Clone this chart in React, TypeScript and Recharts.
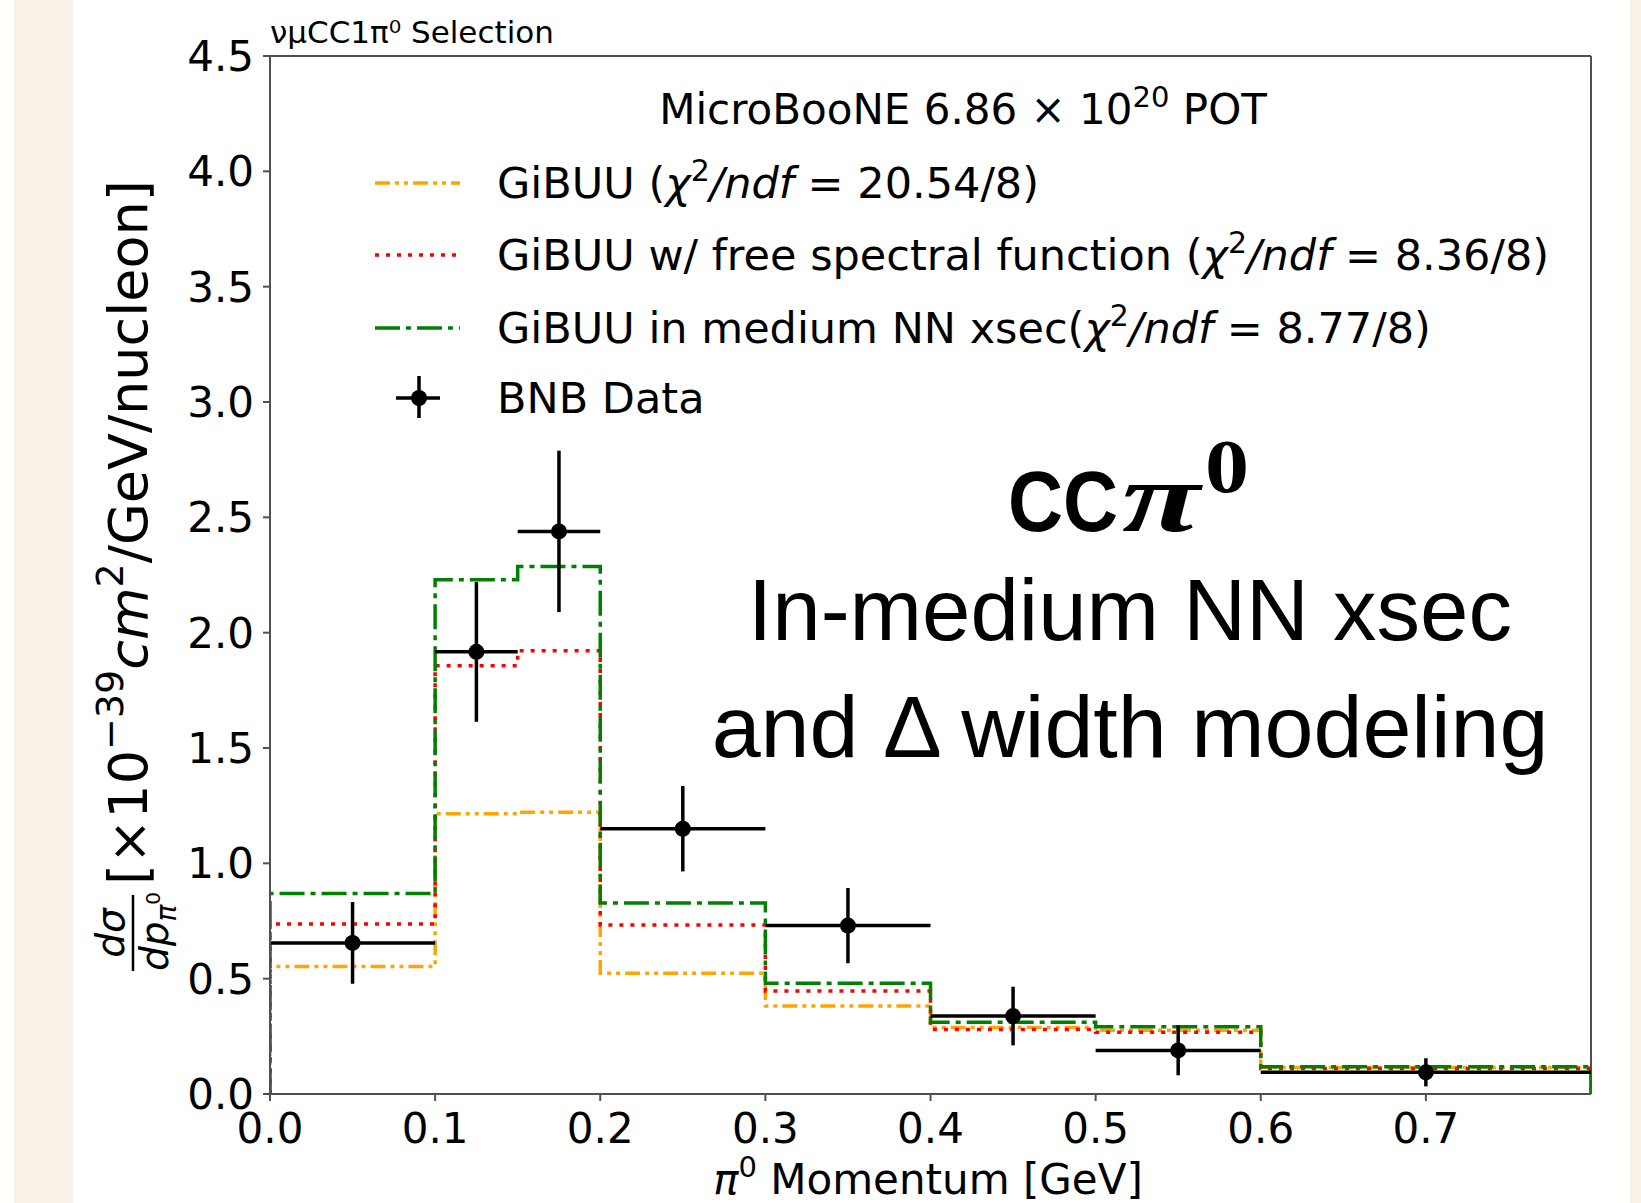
import React from 'react';
import { ComposedChart, Line, Scatter, XAxis, YAxis, ErrorBar, ReferenceLine } from 'recharts';

// Histogram bin edges (GeV) shared by the GiBUU predictions
const binEdges = [0, 0.1, 0.15, 0.2, 0.3, 0.4, 0.5, 0.6, 0.8];

// GiBUU predictions per bin [1e-39 cm^2/GeV/nucleon]
const gibuu = [0.553, 1.215, 1.222, 0.524, 0.382, 0.288, 0.276, 0.115];
const gibuuFreeSpectral = [0.737, 1.857, 1.922, 0.733, 0.447, 0.28, 0.268, 0.111];
const gibuuInMediumNN = [0.869, 2.229, 2.287, 0.828, 0.48, 0.311, 0.292, 0.118];

// BNB data points
const dataCenters = [0.05, 0.125, 0.175, 0.25, 0.35, 0.45, 0.55, 0.7];
const dataValues = [0.655, 1.917, 2.439, 1.15, 0.73, 0.338, 0.189, 0.094];
const dataErrors = [0.177, 0.303, 0.35, 0.185, 0.163, 0.127, 0.108, 0.061];
const dataHalfWidths = [0.05, 0.025, 0.025, 0.05, 0.05, 0.05, 0.05, 0.1];

const xTicks = [0, 0.1, 0.2, 0.3, 0.4, 0.5, 0.6, 0.7];
const yTicks = [0, 0.5, 1, 1.5, 2, 2.5, 3, 3.5, 4, 4.5];

const W = 1641;
const H = 1203;
const FONT = '"DejaVu Sans", sans-serif';
const SANS = '"Liberation Sans", Arial, sans-serif';
const SERIF = '"Liberation Serif", serif';
const SPINE = '#505050';

const ORANGE = '#ffa500';
const RED = '#ff0000';
const GREEN = '#008000';
const DASH_ORANGE = '15 5 4 5 4 5';
const DASH_RED = '4 7';
const DASH_GREEN = '25 6 5 6';

// matplotlib-style "step" outline: rises from zero at the first edge, falls back at the last
function stepPoints(values: number[]) {
  const last = binEdges[binEdges.length - 1];
  const pts = [{ x: binEdges[0], y: 0 }];
  values.forEach((v, i) => pts.push({ x: binEdges[i], y: v }));
  pts.push({ x: last, y: values[values.length - 1] });
  pts.push({ x: last, y: 0 });
  return pts;
}

const bnbData = dataCenters.map((x, i) => ({
  x,
  y: dataValues[i],
  yErr: dataErrors[i],
  xErr: dataHalfWidths[i],
}));

const tickStyle = { fill: '#000', fontSize: 42, fontFamily: FONT };

const Dot = (props: any) => <circle cx={props.cx} cy={props.cy} r={8} fill="#000" />;

function Overlay() {
  const legendRows = [
    { y: 183, color: ORANGE, dash: DASH_ORANGE, label: 'GiBUU (', value: '20.54/8)' },
    { y: 255, color: RED, dash: DASH_RED, label: 'GiBUU w/ free spectral function (', value: '8.36/8)' },
    { y: 328, color: GREEN, dash: DASH_GREEN, label: 'GiBUU in medium NN xsec(', value: '8.77/8)' },
  ];
  return (
    <svg width={W} height={H} style={{ position: 'absolute', left: 0, top: 0, pointerEvents: 'none' }}>
      {/* selection tag above the frame */}
      <text x={270} y={43} fontFamily={FONT} fontSize={31} fill="#000">
        νμCC1π⁰ Selection
      </text>

      {/* legend */}
      <text x={963} y={124} fontFamily={FONT} fontSize={42} fill="#000" textAnchor="middle">
        MicroBooNE 6.86 × 10
        <tspan fontSize={29} dy={-17}>20</tspan>
        <tspan dy={17}> POT</tspan>
      </text>
      {legendRows.map((r) => (
        <g key={r.label}>
          <line x1={375} x2={460} y1={r.y} y2={r.y} stroke={r.color} strokeWidth={3.5} strokeDasharray={r.dash} />
          <text x={497} y={r.y + 15} fontFamily={FONT} fontSize={43} fill="#000">
            {r.label}
            <tspan fontStyle="italic">χ</tspan>
            <tspan fontSize={30} dy={-17}>2</tspan>
            <tspan dy={17} fontStyle="italic">/ndf</tspan>
            <tspan> = {r.value}</tspan>
          </text>
        </g>
      ))}
      <g>
        <line x1={396} x2={440} y1={398} y2={398} stroke="#000" strokeWidth={3.5} />
        <line x1={419} x2={419} y1={376} y2={418} stroke="#000" strokeWidth={3.5} />
        <circle cx={419} cy={398} r={8} fill="#000" />
        <text x={497} y={413} fontFamily={FONT} fontSize={43} fill="#000">
          BNB Data
        </text>
      </g>

      {/* annotation */}
      <text x={1008} y={531} fontFamily={SANS} fontWeight="bold" fontSize={86} fill="#000" textLength={110} lengthAdjust="spacingAndGlyphs">
        CC
      </text>
      <text x={1122} y={531} fontFamily={SERIF} fontWeight="bold" fontStyle="italic" fontSize={100} fill="#000" textLength={78} lengthAdjust="spacingAndGlyphs">
        π
      </text>
      <text x={1205} y={492} fontFamily={SERIF} fontWeight="bold" fontSize={76} fill="#000" textLength={44} lengthAdjust="spacingAndGlyphs">
        0
      </text>
      <text x={1130} y={640} textAnchor="middle" fontFamily={SANS} fontSize={87} fill="#000">
        In-medium NN xsec
      </text>
      <text x={1130} y={757} textAnchor="middle" fontFamily={SANS} fontSize={88} fill="#000">
        and Δ width modeling
      </text>

      {/* x-axis label */}
      <text x={928} y={1194} textAnchor="middle" fontFamily={FONT} fontSize={42} fill="#000">
        <tspan fontStyle="italic">π</tspan>
        <tspan fontSize={29} dy={-17}>0</tspan>
        <tspan dy={17}> Momentum [GeV]</tspan>
      </text>

      {/* y-axis label: fraction then units */}
      <g transform="translate(133, 933) rotate(-90)">
        <line x1={-38} x2={38} y1={0} y2={0} stroke="#000" strokeWidth={2.5} />
        <text x={0} y={-9} textAnchor="middle" fontFamily={FONT} fontStyle="italic" fontSize={39} fill="#000">
          dσ
        </text>
        <text x={-38} y={35} fontFamily={FONT} fontSize={39} fill="#000">
          <tspan fontStyle="italic">dp</tspan>
          <tspan fontStyle="italic" fontSize={28} dy={8}>π</tspan>
          <tspan fontSize={20} dy={-16}>0</tspan>
        </text>
      </g>
      <g transform="translate(147, 885) rotate(-90)">
        <text x={0} y={0} fontFamily={FONT} fontSize={54} fill="#000">
          [×10
          <tspan fontSize={38} dy={-24}>−39</tspan>
          <tspan fontStyle="italic" dy={24}>cm</tspan>
          <tspan fontSize={38} dy={-24}>2</tspan>
          <tspan dy={24}>/GeV/nucleon]</tspan>
        </text>
      </g>
    </svg>
  );
}

export default function App() {
  return (
    <div style={{ position: 'absolute', left: 0, top: 0, width: W, height: H, background: '#fff', overflow: 'hidden' }}>
      <div style={{ position: 'absolute', left: 14, top: 0, width: 59, height: H, background: '#f9f1e7' }} />
      <div style={{ position: 'absolute', left: 1630, top: 0, width: 11, height: H, background: '#f9f1e7' }} />
      <ComposedChart
        width={W}
        height={H}
        margin={{ top: 56, right: 50, bottom: 49, left: 170 }}
        style={{ position: 'absolute', left: 0, top: 0 }}
      >
        <XAxis
          dataKey="x"
          type="number"
          domain={[0, 0.8]}
          ticks={xTicks}
          tickFormatter={(v: number) => v.toFixed(1)}
          allowDataOverflow
          height={60}
          tick={tickStyle}
          tickSize={7}
          tickMargin={12}
          axisLine={{ stroke: SPINE, strokeWidth: 2 }}
          tickLine={{ stroke: SPINE, strokeWidth: 2 }}
        />
        <YAxis
          type="number"
          domain={[0, 4.5]}
          ticks={yTicks}
          tickFormatter={(v: number) => v.toFixed(1)}
          allowDataOverflow
          width={100}
          tick={tickStyle}
          tickSize={7}
          tickMargin={9}
          axisLine={{ stroke: SPINE, strokeWidth: 2 }}
          tickLine={{ stroke: SPINE, strokeWidth: 2 }}
        />
        <ReferenceLine y={4.5} stroke={SPINE} strokeWidth={2} />
        <ReferenceLine x={0.8} stroke={SPINE} strokeWidth={2} />
        <Line
          data={stepPoints(gibuu)}
          dataKey="y"
          type="stepAfter"
          stroke={ORANGE}
          strokeWidth={3.5}
          strokeDasharray={DASH_ORANGE}
          dot={false}
          isAnimationActive={false}
        />
        <Line
          data={stepPoints(gibuuFreeSpectral)}
          dataKey="y"
          type="stepAfter"
          stroke={RED}
          strokeWidth={3.5}
          strokeDasharray={DASH_RED}
          dot={false}
          isAnimationActive={false}
        />
        <Line
          data={stepPoints(gibuuInMediumNN)}
          dataKey="y"
          type="stepAfter"
          stroke={GREEN}
          strokeWidth={3.5}
          strokeDasharray={DASH_GREEN}
          dot={false}
          isAnimationActive={false}
        />
        <Scatter data={bnbData} dataKey="y" shape={Dot} isAnimationActive={false}>
          <ErrorBar dataKey="yErr" direction="y" width={0} stroke="#000" strokeWidth={3.5} />
          <ErrorBar dataKey="xErr" direction="x" width={0} stroke="#000" strokeWidth={3.5} />
        </Scatter>
      </ComposedChart>
      <Overlay />
    </div>
  );
}
